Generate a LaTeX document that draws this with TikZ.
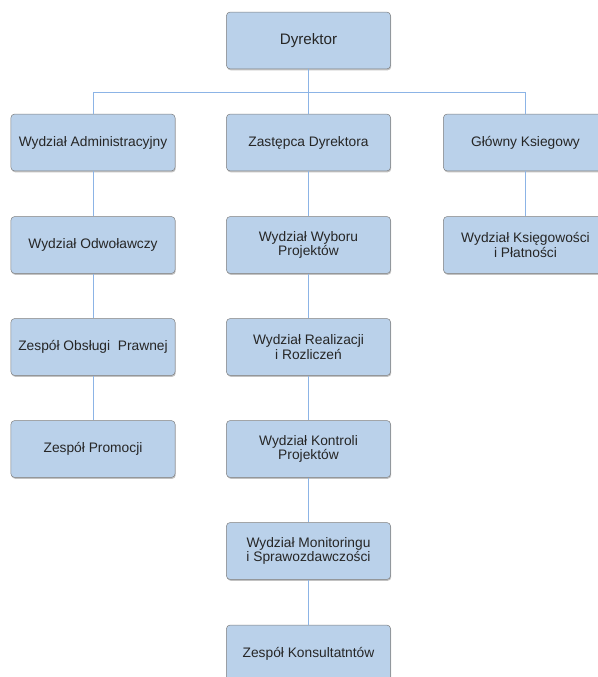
\documentclass[tikz,border=0pt]{standalone}
\usepackage{fontspec}
\setmainfont{Liberation Sans}
\usetikzlibrary{shadows}
\definecolor{boxfill}{RGB}{186,209,234}
\definecolor{boxline}{RGB}{125,125,125}
\definecolor{linkline}{RGB}{140,180,230}

\begin{document}
\begin{tikzpicture}[x=0.025cm,y=-0.025cm,every text node part/.style={align=center}]
  \tikzstyle{unit}=[rectangle,rounded corners=2.5pt,draw=boxline,line width=0.35pt,
    fill=boxfill,minimum width=4.1cm,minimum height=1.42cm,inner sep=1pt,
    text=black!85,font=\fontsize{9.8}{10.4}\selectfont,
    drop shadow={shadow xshift=0.5pt,shadow yshift=-1pt,opacity=0.4,fill=black!60}]
  \tikzstyle{link}=[draw=linkline,line width=0.7pt]

  \useasboundingbox (0,0) rectangle (598,677);
  \clip (0,0) rectangle (598,677);

  % top
  \node [unit,font=\fontsize{10.8}{12}\selectfont] (dyr) at (308.5,40.5) {Dyrektor};
  \coordinate (bus) at (308.5,92);

  % first level
  \node [unit] (adm) at (93,142.5) {Wydział Administracyjny};
  \node [unit] (zas) at (308.5,142.5) {Zastępca Dyrektora};
  \node [unit] (ksg) at (525.5,142.5) {Główny Ksiegowy};

  % left column
  \node [unit] (odw) at (93,245) {Wydział Odwoławczy};
  \node [unit] (prw) at (93,347) {Zespół Obsługi~~Prawnej};
  \node [unit] (prm) at (93,449) {Zespół Promocji};

  % middle column
  \node [unit] (wyb) at (308.5,245) {Wydział Wyboru\\Projektów};
  \node [unit] (rea) at (308.5,347) {Wydział Realizacji\\i Rozliczeń};
  \node [unit] (kon) at (308.5,449) {Wydział Kontroli\\Projektów};
  \node [unit] (mon) at (308.5,551) {Wydział Monitoringu\\i Sprawozdawczości};
  \node [unit] (kns) at (308.5,653.5) {Zespół Konsultatntów};

  % right column
  \node [unit] (ksp) at (525.5,245) {Wydział Księgowości\\i Płatności};

  % connectors
  \draw [link] (dyr.south) -- (dyr.south |- bus);
  \draw [link] (adm.north) |- (ksg.north |- bus) -- (ksg.north);
  \draw [link] (zas.north) -- (zas.north |- bus);
  \draw [link] (adm) -- (odw) (odw) -- (prw) (prw) -- (prm);
  \draw [link] (zas) -- (wyb) (wyb) -- (rea) (rea) -- (kon) (kon) -- (mon) (mon) -- (kns);
  \draw [link] (ksg) -- (ksp);
\end{tikzpicture}
\end{document}
